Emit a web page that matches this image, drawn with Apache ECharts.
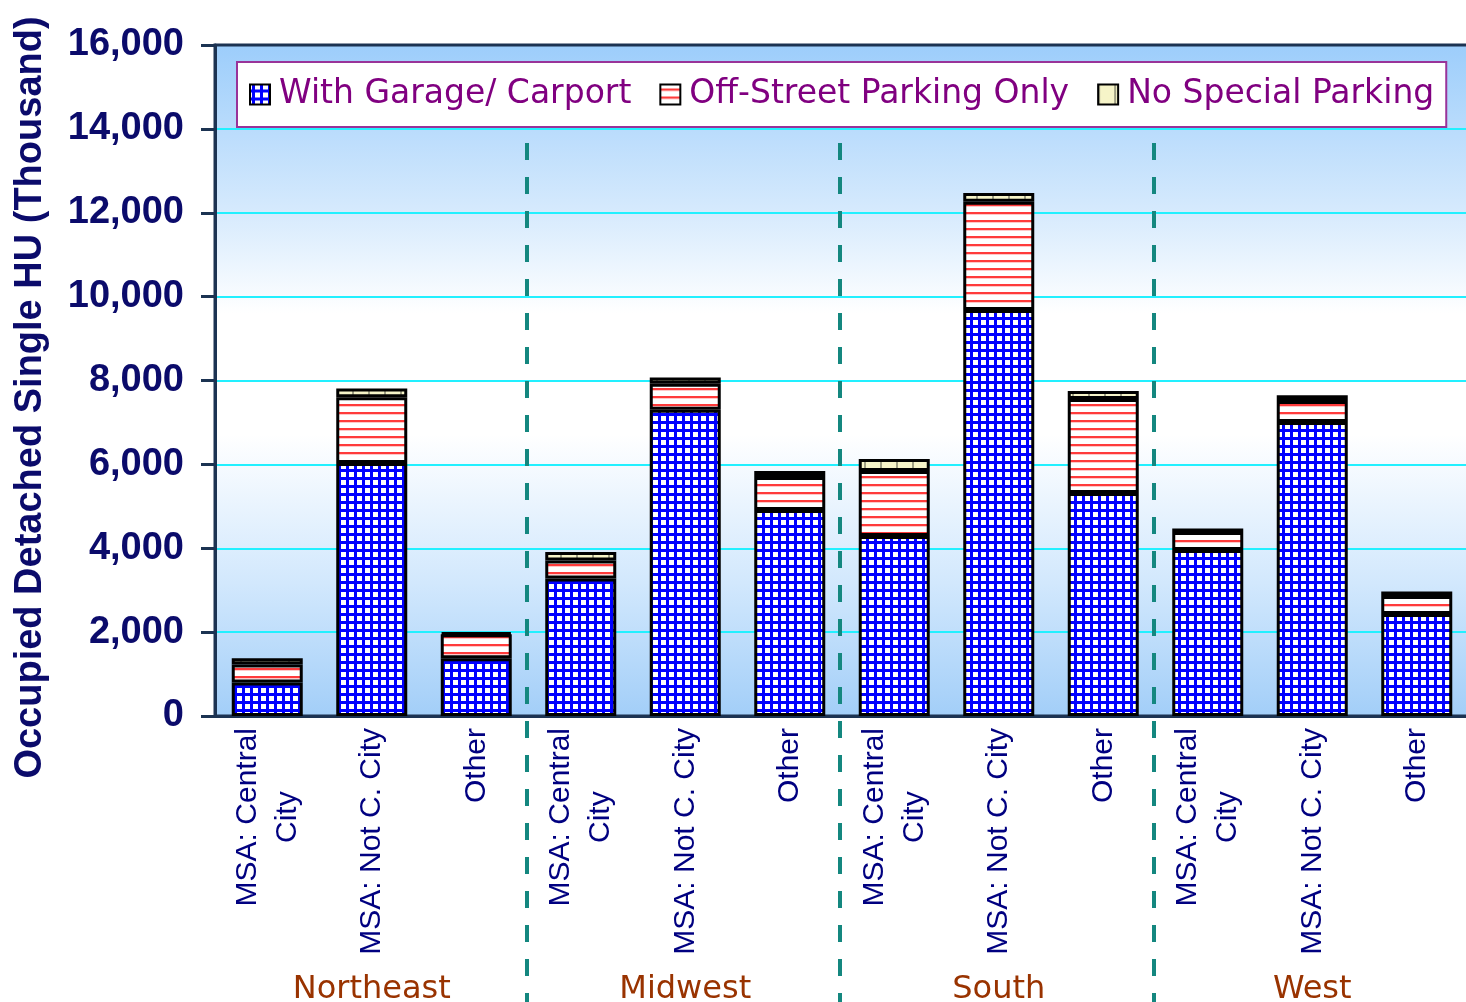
<!DOCTYPE html>
<html>
<head>
<meta charset="utf-8">
<script src="https://cdn.jsdelivr.net/npm/echarts@6/dist/echarts.min.js"></script>
<style>
  html, body { margin: 0; padding: 0; background: #fff; }
  #chart { width: 1466px; height: 1002px; }
</style>
</head>
<body>
<div id="chart"></div>
<script>
// categories and regions
var categories = ['MSA: Central\nCity', 'MSA: Not C. City', 'Other',
                  'MSA: Central\nCity', 'MSA: Not C. City', 'Other',
                  'MSA: Central\nCity', 'MSA: Not C. City', 'Other',
                  'MSA: Central\nCity', 'MSA: Not C. City', 'Other'];
var regions = ['Northeast', 'Midwest', 'South', 'West'];
var seriesNames = ['With Garage/ Carport', 'Off-Street Parking Only', 'No Special Parking'];

// values, thousand units
var garage    = [800, 6030, 1380, 3280, 7300, 4910, 4290, 9680, 5320, 3960, 7010, 2430];
var offStreet = [430, 1570, 570, 430, 620, 790, 1550, 2580, 2240, 430, 500, 430];
var noSpecial = [150, 210, 40, 200, 150, 140, 290, 210, 190, 80, 140, 110];

var yTicks = [0, 2000, 4000, 6000, 8000, 10000, 12000, 14000, 16000];

var navy = '#0b0b6b';
var axisDark = '#1c3352';

// pattern tiles
function makeTile(w, h, draw) {
    var c = document.createElement('canvas');
    c.width = w; c.height = h;
    draw(c.getContext('2d'));
    return c;
}
var gridTile = makeTile(8, 8, function (ctx) {
    ctx.fillStyle = '#ffffff';
    ctx.fillRect(0, 0, 8, 8);
    ctx.fillStyle = '#0000ff';
    ctx.fillRect(2, 0, 3, 8);
    ctx.fillRect(0, 5, 8, 3);
});
var stripeTile = makeTile(8, 8, function (ctx) {
    ctx.fillStyle = '#ffffff';
    ctx.fillRect(0, 0, 8, 8);
    ctx.fillStyle = '#ff3b3b';
    ctx.fillRect(0, 4, 8, 2);
    ctx.fillStyle = '#ffc8c8';
    ctx.fillRect(0, 6, 8, 1);
});
var khakiTile = makeTile(16, 8, function (ctx) {
    ctx.fillStyle = '#f6f4c8';
    ctx.fillRect(0, 0, 16, 8);
    ctx.fillStyle = '#a0a084';
    ctx.fillRect(0, 0, 2, 8);
});
var fills = [
    { image: gridTile, repeat: 'repeat' },
    { image: stripeTile, repeat: 'repeat' },
    { image: khakiTile, repeat: 'repeat' }
];
var values = [garage, offStreet, noSpecial];

var series = seriesNames.map(function (name, i) {
    return {
        name: name,
        type: 'bar',
        stack: 'total',
        barWidth: 71,
        data: values[i],
        itemStyle: { color: fills[i], borderColor: '#000', borderWidth: 3 },
        emphasis: { disabled: true }
    };
});

var chart = echarts.init(document.getElementById('chart'));
var option = {
    backgroundColor: '#ffffff',
    animation: false,
    grid: {
        left: 215, top: 45, width: 1254, bottom: 286,
        outerBoundsMode: 'none',
        containLabel: false,
        show: true,
        borderColor: axisDark,
        borderWidth: 3,
        backgroundColor: {
            type: 'linear', x: 0, y: 0, x2: 0, y2: 1,
            colorStops: [
                { offset: 0, color: '#9ccdfb' },
                { offset: 0.25, color: '#d6eafd' },
                { offset: 0.4, color: '#ffffff' },
                { offset: 0.58, color: '#ffffff' },
                { offset: 0.8, color: '#d2e8fd' },
                { offset: 1, color: '#a2cef8' }
            ]
        }
    },
    legend: {
        data: seriesNames,
        left: 237, top: 62,
        padding: [16, 12, 16, 12],
        itemGap: 28,
        itemWidth: 20, itemHeight: 20,
        icon: 'rect',
        backgroundColor: '#ffffff',
        borderColor: '#993399',
        borderWidth: 2,
        textStyle: { fontFamily: 'DejaVu Sans', fontSize: 33, color: '#800080', padding: [0, 0, 0, 4] },
        selectedMode: false
    },
    xAxis: [{
        type: 'category',
        data: categories,
        axisLine: { lineStyle: { color: axisDark, width: 3 } },
        axisTick: { length: 9, lineStyle: { color: axisDark, width: 3 } },
        axisLabel: {
            rotate: 90,
            margin: 12,
            interval: 0,
            formatter: function (v) {
                return v.split('\n').map(function (s) { return '{c|' + s + '}'; }).join('\n');
            },
            rich: {
                c: { align: 'center', fontFamily: 'Liberation Sans', fontSize: 30, color: '#000080', lineHeight: 40 }
            }
        }
    }, {
        type: 'category',
        data: regions,
        position: 'bottom',
        axisLine: { show: false },
        axisTick: { show: false },
        axisLabel: {
            margin: 258,
            fontFamily: 'DejaVu Sans', fontSize: 32, color: '#993300'
        }
    }],
    yAxis: {
        type: 'value',
        min: yTicks[0], max: yTicks[yTicks.length - 1], interval: yTicks[1] - yTicks[0],
        name: 'Occupied Detached Single HU (Thousand)',
        nameLocation: 'middle',
        nameRotate: 90,
        nameGap: 165,
        nameTextStyle: { fontFamily: 'Liberation Sans', fontSize: 38, fontWeight: 'bold', color: navy, padding: [0, 34, 0, 0] },
        axisLine: { show: true, lineStyle: { color: axisDark, width: 3 } },
        axisTick: { show: true, length: 14, lineStyle: { color: axisDark, width: 3 } },
        axisLabel: {
            margin: 31,
            fontFamily: 'Liberation Sans', fontSize: 38, fontWeight: 'bold', color: navy,
            formatter: function (v) { return v.toLocaleString('en-US'); }
        },
        splitLine: { show: true, showMaxLine: false, lineStyle: { color: '#22f0ff', width: 2 } }
    },
    series: series
};
chart.setOption(option);

// dashed separators between regions, placed from the category scale
var sepLines = [];
for (var r = 1; r < regions.length; r++) {
    var a = chart.convertToPixel({ xAxisIndex: 0 }, r * 3 - 1);
    var b = chart.convertToPixel({ xAxisIndex: 0 }, r * 3);
    var x = Math.round((a + b) / 2) - 2;
    sepLines.push({
        type: 'line',
        z: 5,
        shape: { x1: x, y1: 143, x2: x, y2: 1002 },
        style: { stroke: '#14877f', lineWidth: 4, lineDash: [17, 17] }
    });
}
chart.setOption({ graphic: sepLines });
</script>
</body>
</html>
